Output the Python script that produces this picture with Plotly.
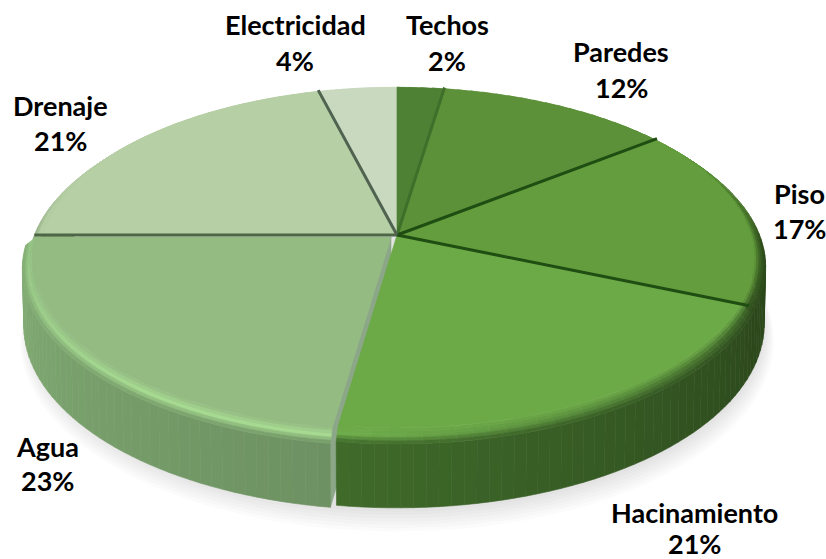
import math
import plotly.graph_objects as go

categories = ["Techos", "Paredes", "Piso", "Hacinamiento", "Agua", "Drenaje", "Electricidad"]
values = [2.4, 12, 17, 20.9, 22.7, 21, 4]

top_colors = ["#4f8134", "#5c9139", "#639d3d", "#6ca947", "#93bb82", "#b6cfa5", "#c9d9bf"]
edge_colors = ["#3f6f2a", "#1f4d12", "#1f4d12", None, "#4c6646", "#4f6350", None]
side_near = ["#3a5f26", "#3a5f26", "#2b481b", "#2d4a1d", "#6d9162", "#8fa980", "#a0b596"]
side_far = ["#3a5f26", "#3a5f26", "#2b481b", "#3f6a2a", "#83ad74", "#8fa980", "#a0b596"]
rim_near = ["#4f8134", "#5c9139", "#5a9238", "#3c6526", "#a6da90", "#b6cfa5", "#c9d9bf"]
rim_far = ["#4f8134", "#5c9139", "#34561f", "#6fae4c", "#93c383", "#b6cfa5", "#c9d9bf"]
label_pos = [(447, 24, 60), (621, 51, 87), (799, 193, 228), (694, 512, 543),
             (47, 446, 480), (60, 105, 140), (295, 24, 60)]

CX, CY, RX, SY, K = 397, 235, 358, 169, 0.134
HEIGHT, BEVEL_R, BEVEL_H = 64, 0.02, 8
BANDS = 5
EXPLODE = {"Agua": (-6, 2)}


def proj(theta, r=1.0, h=0.0, off=(0, 0)):
    depth = r * math.cos(theta)
    f = 1 / (1 + K * depth)
    return (CX + RX * r * math.sin(theta) * f + off[0],
            CY - SY * r * math.cos(theta) * f + h * f + off[1])


def rgb(c):
    return [int(c[i:i + 2], 16) for i in (1, 3, 5)]


def mix(a, b, t):
    ca, cb = rgb(a), rgb(b)
    return "#%02x%02x%02x" % tuple(round(x + (y - x) * t) for x, y in zip(ca, cb))


fig = go.Figure()


def poly(pts, color, line=None):
    fig.add_trace(go.Scatter(
        x=[p[0] for p in pts] + [pts[0][0]], y=[p[1] for p in pts] + [pts[0][1]],
        mode="lines", fill="toself", fillcolor=color, hoverinfo="skip", showlegend=False,
        line=dict(color=line or color, width=0.6)))


total = sum(values)
angles = [0]
for v in values:
    angles.append(angles[-1] + v / total * 2 * math.pi)
slices = list(zip(categories, angles[:-1], angles[1:]))

# soft shadow below the body
for i in range(7):
    pts = [proj(2 * math.pi * a / 120, 1.018 + 0.004 * i, HEIGHT + 3 + 2 * i) for a in range(121)]
    poly(pts, "rgba(130,130,130,0.03)", line="rgba(0,0,0,0)")

order = [6, 5, 0, 1, 4, 2, 3]
for idx in order:
    name, a0, a1 = slices[idx]
    off = EXPLODE.get(name, (0, 0))
    n = max(4, int((a1 - a0) / 0.03))
    if name == "Agua":
        poly([proj(a0, 1, 0, off), proj(a0, 1 + BEVEL_R, BEVEL_H, off), proj(a0, 1 + BEVEL_R * 0.8, HEIGHT, off),
              proj(0, 0, HEIGHT, off), proj(0, 0, 0, off)], "#8ba787")
    for j in range(n):
        t0, t1 = a0 + (a1 - a0) * j / n, a0 + (a1 - a0) * (j + 1) / n
        c = mix(side_near[idx], side_far[idx], (j + 0.5) / n)
        poly([proj(t0, 1 + BEVEL_R, BEVEL_H, off), proj(t1, 1 + BEVEL_R, BEVEL_H, off),
              proj(t1, 1 + BEVEL_R * 0.8, HEIGHT, off), proj(t0, 1 + BEVEL_R * 0.8, HEIGHT, off)], c)

# soft bevel between the top face and the side wall, in concentric bands
for idx in order:
    name, a0, a1 = slices[idx]
    off = EXPLODE.get(name, (0, 0))
    n = max(4, int((a1 - a0) / 0.04))
    for j in range(n):
        t0, t1 = a0 + (a1 - a0) * j / n, a0 + (a1 - a0) * (j + 1) / n
        t = (j + 0.5) / n
        mid = (t0 + t1) / 2
        rim_t = max(0, t - 0.35) / 0.65 if name == "Agua" else t
        rim = mix(rim_near[idx], rim_far[idx], rim_t)
        side = mix(side_near[idx], side_far[idx], t)
        back = min(1, max(0, math.cos(mid) / 0.3))
        side = mix(side, top_colors[idx], back)
        for b in range(BANDS):
            u0, u1 = b / BANDS, (b + 1) / BANDS
            u = (u0 + u1) / 2
            c = mix(top_colors[idx], rim, u / 0.5) if u < 0.5 else mix(rim, side, (u - 0.5) / 0.5)
            r0, r1 = 1 - BEVEL_R * 0.5 + BEVEL_R * 1.5 * u0, 1 - BEVEL_R * 0.5 + BEVEL_R * 1.5 * u1
            h0, h1 = BEVEL_H * u0, BEVEL_H * u1
            poly([proj(t0, r0, h0, off), proj(t1, r0, h0, off), proj(t1, r1, h1, off), proj(t0, r1, h1, off)], c)

# top faces
for idx in order:
    name, a0, a1 = slices[idx]
    off = EXPLODE.get(name, (0, 0))
    n = max(4, int((a1 - a0) / 0.02))
    r = 1 - BEVEL_R * 0.5
    pts = [proj(0, 0, 0, off)] + [proj(a0 + (a1 - a0) * j / n, r, 0, off) for j in range(n + 1)]
    poly(pts, top_colors[idx])

# slice separators
for idx, (name, a0, a1) in enumerate(slices):
    if edge_colors[idx]:
        p0, p1 = proj(0, 0), proj(a1, 1.013 if math.cos(a1) < 0.5 else 1.0)
        fig.add_trace(go.Scatter(x=[p0[0], p1[0]], y=[p0[1], p1[1]], mode="lines", hoverinfo="skip",
                                 showlegend=False, line=dict(color=edge_colors[idx], width=3)))

# labels
annotations = []
for name, v, (lx, y1, y2) in zip(categories, values, label_pos):
    for text, y in ((name, y1), (f"{round(v)}%", y2)):
        annotations.append(dict(x=lx, y=y, xref="x", yref="y", text=f"<b>{text}</b>", showarrow=False,
                                xanchor="center", yanchor="middle",
                                font=dict(family="Lato", size=27, color="#000000")))

fig.update_layout(width=826, height=559, margin=dict(l=0, r=0, t=0, b=0),
                  paper_bgcolor="white", plot_bgcolor="white", showlegend=False,
                  annotations=annotations,
                  xaxis=dict(range=[0, 826], visible=False, fixedrange=True),
                  yaxis=dict(range=[559, 0], visible=False, fixedrange=True))
fig.write_html("out.html", config={"displayModeBar": False},
               post_script="document.body.style.margin='0';document.documentElement.style.overflow='hidden';")
